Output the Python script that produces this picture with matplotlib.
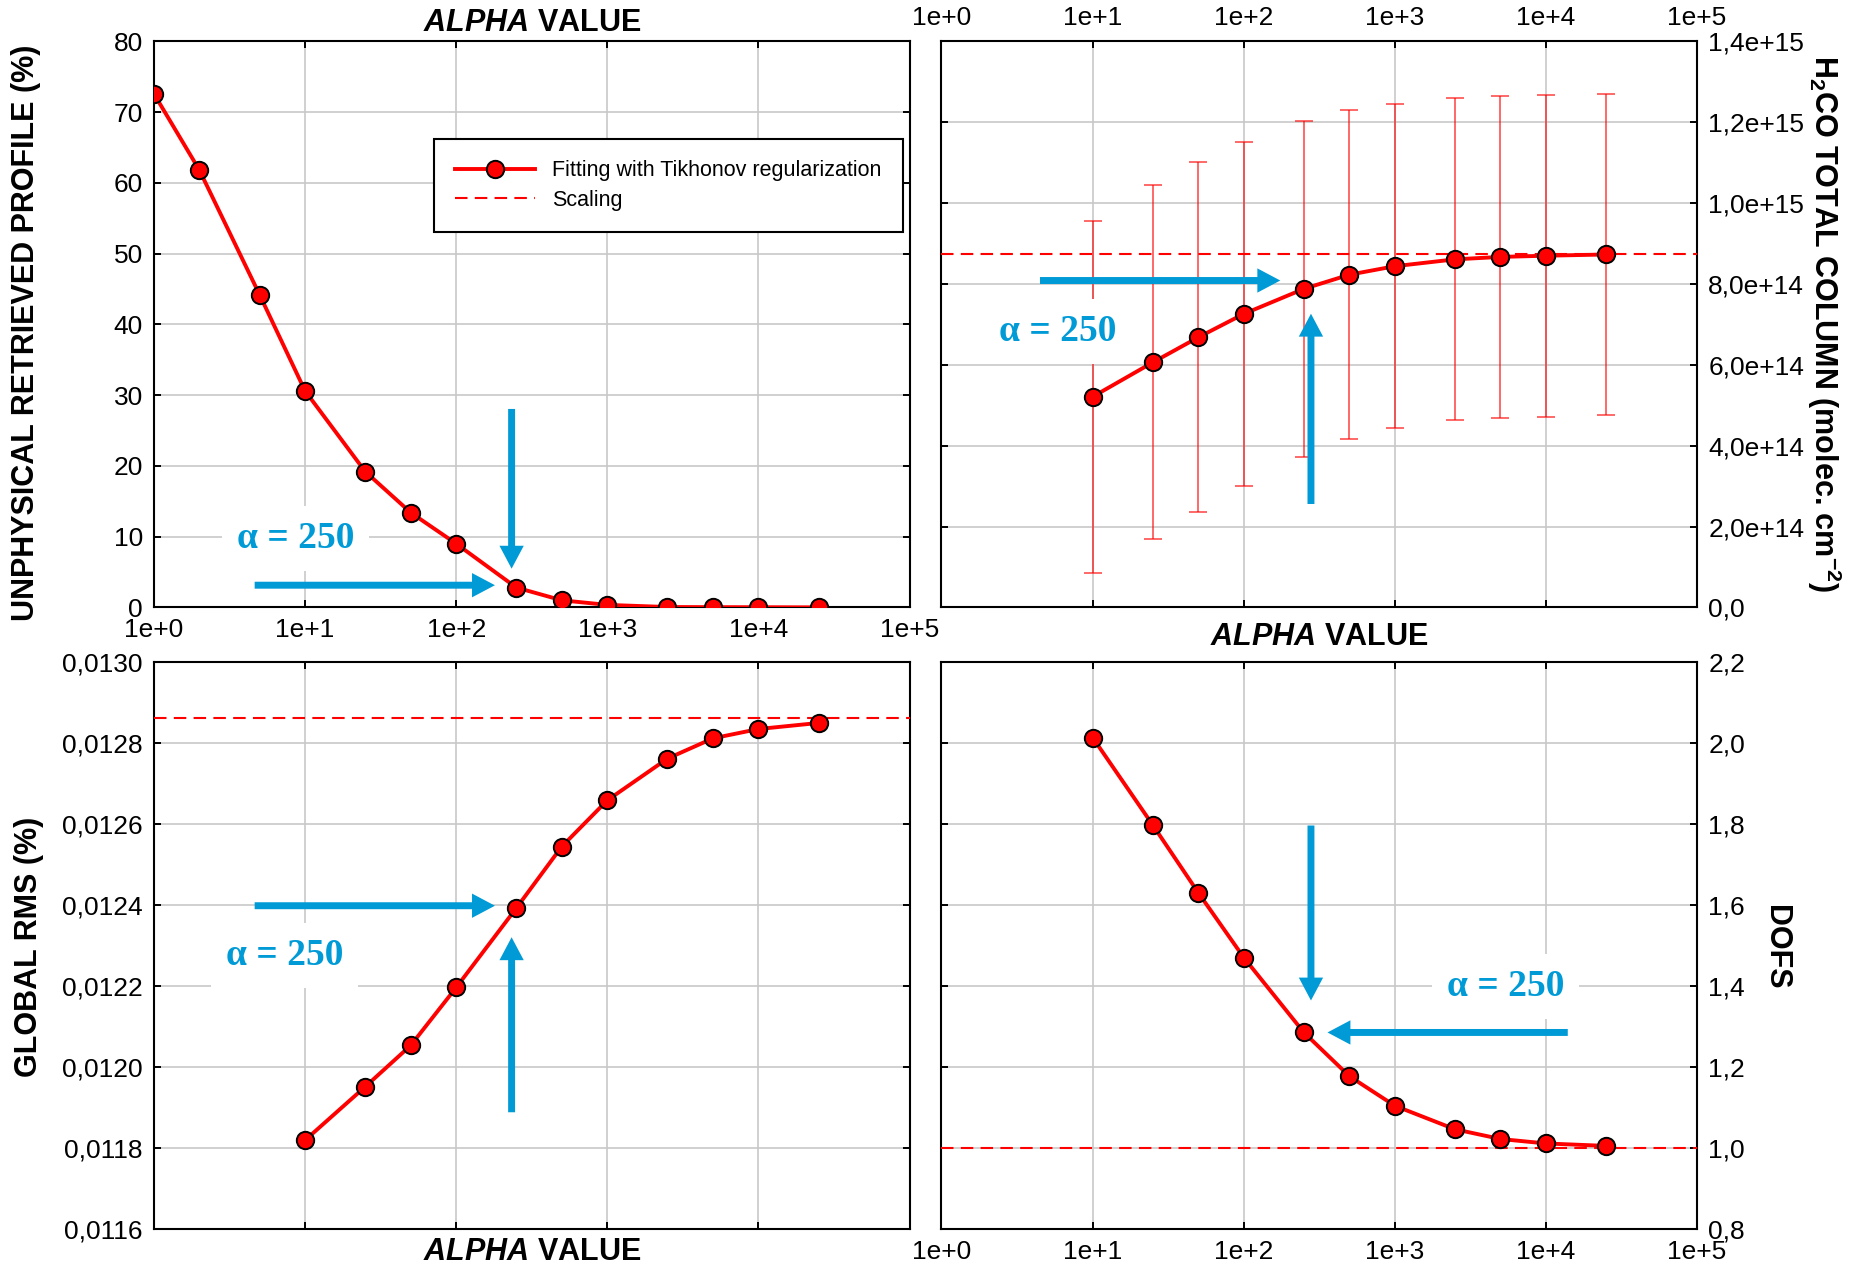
import matplotlib
matplotlib.use('Agg')
import matplotlib.pyplot as plt
from matplotlib import font_manager
from matplotlib.lines import Line2D
from matplotlib.transforms import offset_copy

# ---- data ----
alpha_all = [1, 2, 5, 10, 25, 50, 100, 250, 500, 1000, 2500, 5000, 10000, 25000]
unphysical = [72.6, 61.8, 44.2, 30.6, 19.2, 13.4, 9.0, 2.8, 1.0, 0.35, 0.05, 0.03, 0.02, 0.0]

alpha = [10, 25, 50, 100, 250, 500, 1000, 2500, 5000, 10000, 25000]
total_col = [5.21e14, 6.06e14, 6.68e14, 7.26e14, 7.88e14, 8.23e14, 8.44e14,
             8.61e14, 8.67e14, 8.70e14, 8.73e14]
total_col_err = [4.35e14, 4.38e14, 4.33e14, 4.26e14, 4.16e14, 4.07e14, 4.01e14,
                 3.98e14, 3.98e14, 3.98e14, 3.97e14]
global_rms = [0.011819, 0.011951, 0.012053, 0.012196, 0.012392, 0.012544,
              0.012658, 0.012761, 0.012811, 0.012834, 0.012849]
dofs = [2.013, 1.797, 1.630, 1.470, 1.285, 1.177, 1.104, 1.046, 1.022, 1.011, 1.005]

scaling_col = 8.73e14
scaling_rms = 0.012860
scaling_dofs = 1.0
alpha_opt = 250

x_ticks = [1, 10, 100, 1000, 10000, 100000]
x_ticklabels = ['1e+0', '1e+1', '1e+2', '1e+3', '1e+4', '1e+5']
unphys_ticks = [0, 10, 20, 30, 40, 50, 60, 70, 80]
col_ticks = [0, 2e14, 4e14, 6e14, 8e14, 1.0e15, 1.2e15, 1.4e15]
col_ticklabels = ['0,0', '2,0e+14', '4,0e+14', '6,0e+14', '8,0e+14',
                  '1,0e+15', '1,2e+15', '1,4e+15']
rms_ticks = [0.0116, 0.0118, 0.0120, 0.0122, 0.0124, 0.0126, 0.0128, 0.0130]
rms_ticklabels = ['0,0116', '0,0118', '0,0120', '0,0122', '0,0124', '0,0126',
                  '0,0128', '0,0130']
dofs_ticks = [0.8, 1.0, 1.2, 1.4, 1.6, 1.8, 2.0, 2.2]
dofs_ticklabels = ['0,8', '1,0', '1,2', '1,4', '1,6', '1,8', '2,0', '2,2']

# ---- style ----
RED = '#ff0000'
BLUE = '#009bd6'
GRID = '#c8c8c8'

names = {f.name for f in font_manager.fontManager.ttflist}
if 'Liberation Sans Narrow' in names:
    NARROW, LAB_SIZE = 'Liberation Sans Narrow', 26
else:
    NARROW, LAB_SIZE = 'Liberation Sans', 22

plt.rcParams['font.family'] = ['Liberation Sans', 'DejaVu Sans']
plt.rcParams['mathtext.fontset'] = 'custom'
plt.rcParams['mathtext.it'] = NARROW + ':italic:bold'
plt.rcParams['mathtext.bf'] = NARROW + ':bold'
plt.rcParams['mathtext.rm'] = NARROW + ':bold'

fig = plt.figure(figsize=(18.57, 12.68), dpi=100)
ax_tl = fig.add_axes([0.0829, 0.5210, 0.4069, 0.4463])
ax_tr = fig.add_axes([0.5070, 0.5210, 0.4069, 0.4463])
ax_bl = fig.add_axes([0.0829, 0.0308, 0.4069, 0.4473])
ax_br = fig.add_axes([0.5070, 0.0308, 0.4069, 0.4473])

lab_font = dict(family=[NARROW, 'Liberation Sans'], weight='bold', size=LAB_SIZE)


def base(ax):
    ax.set_xscale('log')
    ax.set_xlim(1, 1e5)
    ax.set_xticks(x_ticks)
    ax.set_xticklabels(x_ticklabels)
    ax.minorticks_off()
    ax.grid(True, color=GRID, lw=1.2)
    ax.set_axisbelow(True)
    for s in ax.spines.values():
        s.set_linewidth(1.5)
    ax.tick_params(direction='in', length=5, width=1.4, top=True, right=True,
                   labelsize=19, pad=8)


def curve(ax, x, y):
    ax.plot(x, y, '-o', color=RED, lw=2.8, ms=12.5, mfc=RED, mec='black',
            mew=1.4, zorder=5)


def alpha_label(ax, y):
    ax.text(0.5, y, r'$\mathit{ALPHA}$ VALUE', transform=ax.transAxes,
            ha='center', va='center', **lab_font)


def marker_250(ax, yval, h_head, h_tail, v_head, v_tail, txt):
    # arrows pointing at the alpha = 250 point, offsets in points
    for head, tail in ((h_head, h_tail), (v_head, v_tail)):
        tr = offset_copy(ax.transData, fig=fig, x=head[0], y=head[1], units='points')
        ax.annotate('', xy=(alpha_opt, yval), xycoords=tr,
                    xytext=tail, textcoords='offset points',
                    arrowprops=dict(arrowstyle='simple,head_length=1.65,head_width=1.75,tail_width=0.5',
                                    mutation_scale=10, color=BLUE, lw=0,
                                    shrinkA=0, shrinkB=0), zorder=6)
    ax.annotate('α = 250', xy=(alpha_opt, yval), xytext=txt,
                textcoords='offset points', ha='center', va='center',
                family=['Liberation Serif', 'DejaVu Serif'], weight='bold',
                size=27, color=BLUE, zorder=4,
                bbox=dict(boxstyle='square,pad=0.4', fc='white', ec='none'))


# ---- top left: unphysical profile ----
ax = ax_tl
base(ax)
curve(ax, alpha_all, unphysical)
ax.set_ylim(0, 80)
ax.set_yticks(unphys_ticks)
ax.tick_params(labelbottom=True, labeltop=False, labelleft=True, labelright=False)
ax.set_ylabel('UNPHYSICAL RETRIEVED PROFILE (%)', va='center', **lab_font)
ax.yaxis.set_label_coords(-0.169, 0.485)
alpha_label(ax, 1.033)
handles = [Line2D([0], [0], color=RED, lw=2.8, marker='o', ms=12.5, mfc=RED,
                  mec='black', mew=1.4),
           Line2D([0], [0], color=RED, lw=1.5, ls=(0, (6, 3.5)))]
leg = ax.legend(handles, ['Fitting with Tikhonov regularization', 'Scaling'],
                loc='upper left', bbox_to_anchor=(0.370, 0.828), borderaxespad=0,
                fontsize=15.5, handlelength=3.7, fancybox=False, framealpha=1,
                edgecolor='black', borderpad=1.0, labelspacing=0.4)
leg.get_frame().set_linewidth(1.5)
marker_250(ax, unphysical[alpha_all.index(alpha_opt)],
           (-15.4, 1.7), (-173, 0), (-3.4, 13.6), (0, 115), (-159, 35))

# ---- top right: total column ----
ax = ax_tr
base(ax)
ax.errorbar(alpha, total_col, yerr=total_col_err, fmt='none',
            ecolor=(1, 0, 0, 0.75), elinewidth=1.1, capsize=6.5, capthick=1.1,
            zorder=3)
ax.axhline(scaling_col, color=RED, lw=1.5, ls=(0, (6, 3.5)), zorder=3)
curve(ax, alpha, total_col)
ax.set_ylim(0, 1.4e15)
ax.set_yticks(col_ticks)
ax.set_yticklabels(col_ticklabels)
ax.tick_params(labelbottom=False, labeltop=True, labelleft=False, labelright=True)
ax.yaxis.set_label_position('right')
ax.set_ylabel(r'H$_\mathbf{2}$CO TOTAL COLUMN (molec. cm$^\mathbf{-2}$)',
              rotation=-90, va='center', **lab_font)
ax.yaxis.set_label_coords(1.168, 0.502)
alpha_label(ax, -0.052)
marker_250(ax, total_col[alpha.index(alpha_opt)],
           (-17, 6), (-173, 0), (5.1, -17.9), (0, -137), (-177, -31))

# ---- bottom left: global rms ----
ax = ax_bl
base(ax)
ax.axhline(scaling_rms, color=RED, lw=1.5, ls=(0, (6, 3.5)), zorder=3)
curve(ax, alpha, global_rms)
ax.set_ylim(0.0116, 0.0130)
ax.set_yticks(rms_ticks)
ax.set_yticklabels(rms_ticklabels)
ax.tick_params(labelbottom=False, labeltop=False, labelleft=True, labelright=False)
ax.set_ylabel('GLOBAL RMS (%)', va='center', **lab_font)
ax.yaxis.set_label_coords(-0.165, 0.497)
alpha_label(ax, -0.040)
marker_250(ax, global_rms[alpha.index(alpha_opt)],
           (-15.4, 1.7), (-173, 0), (-3.4, -21), (0, -126), (-167, -34))

# ---- bottom right: DOFS ----
ax = ax_br
base(ax)
ax.axhline(scaling_dofs, color=RED, lw=1.5, ls=(0, (6, 3.5)), zorder=3)
curve(ax, alpha, dofs)
ax.set_ylim(0.8, 2.2)
ax.set_yticks(dofs_ticks)
ax.set_yticklabels(dofs_ticklabels)
ax.tick_params(labelbottom=True, labeltop=False, labelleft=False, labelright=True)
ax.yaxis.set_label_position('right')
ax.set_ylabel('DOFS', rotation=-90, va='center', **lab_font)
ax.yaxis.set_label_coords(1.105, 0.497)
marker_250(ax, dofs[alpha.index(alpha_opt)],
           (17, 0), (173, 0), (5.1, 23), (0, 126), (145, 33))

fig.savefig('out.png', dpi=100)
